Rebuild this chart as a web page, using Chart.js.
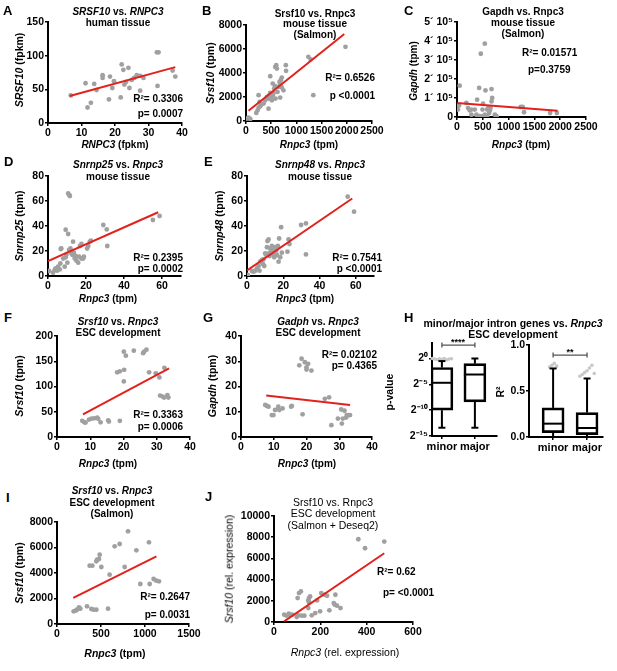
<!DOCTYPE html>
<html><head><meta charset="utf-8">
<script src="https://cdn.jsdelivr.net/npm/chart.js@4.4.0/dist/chart.umd.min.js"></script>
<style>
body{margin:0;background:#fff;width:617px;height:671px;position:relative;overflow:hidden;font-family:"Liberation Sans",Arial,Helvetica,sans-serif;}
canvas{position:absolute}
.t{position:absolute;font-weight:bold;font-size:10px;white-space:nowrap;color:#000;line-height:1;}
</style></head><body>
<script>
// ---------- DATA ----------
// A: SRSF10 vs RNPC3 human tissue
const aX=[6.8,11.2,11.8,12.8,13.8,14.5,16.3,16.3,18.5,18.2,19.2,19.7,21.7,22,22.5,22.8,23.3,24,24.3,25,25.7,26.5,27.5,27.5,28.5,32.5,33,32.7,37.2,38];
const aY=[41,59,23,30,58,49,71,67,69,35,52,62,38,87,79,57,61,82,52,64,67,71,70,48,67,105,105,55,78,69];
const aFitX=[6.5,38], aFitY=[40,83];
const aXTicks=[0,10,20,30,40], aYTicks=[0,50,100,150];
// B: Srsf10 vs Rnpc3 mouse tissue (Salmon)
const bX=[20,50,85,204,230,250,283,303,270,250,350,380,415,447,447,467,480,500,513,530,546,560,580,580,600,612,625,645,665,678,690,710,710,480,530,790,795,585,678,743,1237,1283,1335,1974];
const bY=[200,280,170,670,890,1110,1230,1390,1590,2150,1450,1730,2000,1870,1030,2150,2340,2000,1730,2150,2340,2700,2900,4510,4650,4370,2420,2840,3260,2980,3400,2790,3620,3730,3120,4650,4180,1870,1950,2560,5350,5130,2150,6180];
const bFitX=[50,1950], bFitY=[850,7250];
const bXTicks=[0,500,1000,1500,2000,2500], bYTicks=[0,2000,4000,6000,8000];
// C: Gapdh vs Rnpc3 mouse tissue (Salmon)
const cX=[52,19,39,182,214,247,279,279,344,377,390,429,461,506,539,552,494,506,539,584,604,636,669,682,669,649,623,734,766,442,584,1234,1273,1299,1805,1935];
const cY=[165000,39000,60000,74000,47000,35000,12000,39000,39000,12000,91000,153000,333000,70000,386000,140000,39000,4000,12000,39000,47000,35000,147000,100000,82000,47000,21000,12000,4000,4000,4000,53000,53000,25000,21000,21000];
const cFitX=[0,1950], cFitY=[74000,33000];
const cXTicks=[0,500,1000,1500,2000,2500], cYTicks=[0,100000,200000,300000,400000,500000];
// D: Snrnp25 vs Rnpc3
const dX=[0.5,2.6,3.5,4,4.8,5.3,6.2,6.5,6.7,7,8,8.8,9.3,9.3,9.7,10.2,10.6,10.6,11.2,11.5,11.1,11.8,12.3,12.9,13.2,13.6,14.1,14.6,15,15.9,16.4,16.8,17.6,17.6,18.5,18.9,20.6,21.2,22,22.6,29.1,30.9,31.2,55.2,58.7];
const dY=[4,2.7,4.8,6,4.3,7.5,5.3,10,21.6,22,14,7.5,15,37,17,10.7,33.6,66,64.8,64,20.8,22,18,16.8,27.5,18.7,14,16,12.3,10.7,15.5,24,25.6,14,14,15.5,22,24,27.5,28.3,40.8,37.3,24,44.8,48];
const dFitX=[0,58], dFitY=[12,51];
// E: Snrnp48 vs Rnpc3
const eX=[0.4,2.7,3.7,4.6,5.5,6.4,6.9,7.3,8.2,8.8,9.1,9.5,10,10.6,11,11.3,11.9,11.9,12.4,12.8,13.2,13.7,14.3,14.6,15,15.5,16.1,16.5,17,17.4,17.7,18.3,18.8,19.2,22.3,22.9,23.4,29.8,32.5,32.5,55.5,59];
const eY=[0.8,4,3.5,4.3,6.1,8,4.3,11.5,12.8,9.6,13.3,8,18,16.8,23,28,29.3,18,16,22,19.5,24,20.8,16.8,15,23,20.3,16.8,24,11.5,30,15,39,18.7,19.5,29.3,25.6,40.8,42.1,17.3,63.5,51.5];
const eFitX=[0,58], eFitY=[4.5,62];
const deXTicks=[0,20,40,60], deYTicks=[0,20,40,60,80];
// F: Srsf10 vs Rnpc3 ESC development
const fX=[7.6,8.2,8.6,9.6,10.4,11.2,12.1,12.4,13.1,15.4,15.6,18.9,18.1,18.9,20.1,20.7,20.2,20.1,23.1,25.9,26.2,26.9,27.7,29.7,30.8,31.0,31.8,32.2,32.3,33.2,33.5];
const fY=[32,29,28.6,34.5,36.5,37,38.5,36,29,33,30.5,32,128,130,169,161,133,110,171,166,169,173,128,126,118,82,80,78,137,83,78];
const fFitX=[7.8,33.7], fFitY=[45,136];
const fgXTicks=[0,10,20,30,40], fYTicks=[0,50,100,150,200];
// G: Gadph vs Rnpc3 ESC development
const gX=[7.4,7.9,8.4,9.4,9.9,10.4,11.4,11.7,12.7,15.3,15.5,17.8,18.5,18.8,19.5,20,20,20.5,21.5,25.6,26.9,27.6,29.6,30.6,30.8,31.6,31.1,32.1,32.3,32.9,33.3];
const gY=[12.7,12.3,12,8.7,8.7,10.7,12,10.7,11.3,12,12.3,28.4,31,9,29.6,27.6,26.7,29,26.3,15.1,15.7,4.7,7.3,10.9,5.3,10.4,7.3,7.7,8.7,8.7,8.7];
const gFitX=[7.7,33.3], gFitY=[16.4,12.7];
const gYTicks=[0,10,20,30,40];
// H: minor/major intron genes box plots
const hCats=['minor','major'];
const hPMin=[-13.4,-13.4], hPQ1=[-10,-8.4], hPMed=[-4.7,-3.1], hPQ3=[-1.75,-1.0], hPMax=[-0.5,0];
const hPOut=[[0,-0.1,-0.2,-0.05,-0.15,0,-0.25,-0.1,-0.05],[]];
const hPTicks=[-15,-10,-5,0], hPTickLabels=['2\u207B\u00B9\u2075','2\u207B\u00B9\u2070','2\u207B\u2075','2\u2070'];
const hRMin=[0,0], hRQ1=[0.047,0.025], hRMed=[0.145,0.098], hRQ3=[0.316,0.265], hRMax=[0.745,0.636];
const hROut=[[0.76,0.78,0.8,0.77],[0.66,0.68,0.7,0.72,0.75,0.78,0.69]];
const hRTicks=[0,0.5,1.0];
// I: Srsf10 vs Rnpc3 ESC development (Salmon)
const iX=[189,212,227,250,265,341,390,417,447,580,371,402,447,455,477,485,504,598,655,712,769,807,902,947,1045,1053,1098,1129,1159];
const iY=[994,1046,1124,1307,1203,1386,1176,1124,1124,1203,4575,4575,4915,5046,5098,5438,4471,3869,6092,6275,4471,7268,5778,3137,6405,3137,3529,3399,3346];
const iFitX=[185,1130], iFitY=[2050,5300];
const iXTicks=[0,500,1000,1500], iYTicks=[0,2000,4000,6000,8000];
// J: Srsf10 vs Rnpc3 ESC development (Salmon + Deseq2)
const jX=[44,54,64,68,79,98,105,119,131,102,108,116,151,148,151,156,148,163,178,186,204,199,218,229,239,258,265,262,272,287,364,393,476];
const jY=[690,596,784,690,690,470,627,596,596,2257,2727,2884,2257,2038,1850,2414,1317,627,846,2038,2727,1003,2570,2476,1097,1787,2570,1630,1536,1317,7806,6959,7586];
const jFitX=[44,476], jFitY=[60,6490];
const jXTicks=[0,200,400,600], jYTicks=[0,2000,4000,6000,8000,10000];

// ---------- DRAWING ----------
const FF='"Liberation Sans", Arial, Helvetica, sans-serif';
const PL=52, PT=10, PR=18, PB=30;
const GREY='#a0a0a0', RED='#e3211c';

function mk(box){
  const c=document.createElement('canvas');
  const w=(box.r-box.l)+PL+PR, h=(box.b-box.t)+PT+PB;
  c.width=w;c.height=h;
  c.style.left=(box.l-PL)+'px';c.style.top=(box.t-PT)+'px';
  c.style.width=w+'px';c.style.height=h+'px';
  document.body.appendChild(c);
  return c;
}
function axisOpts(ax,isX){
  const [min,max,ticks,fmt,fsize]=ax;
  return {type:'linear',min:min,max:max,offset:false,
    afterBuildTicks:s=>{s.ticks=ticks.map(v=>({value:v}));},
    afterFit:s=>{if(isX)s.height=PB;else s.width=PL;},
    ticks:{color:'#000',font:{family:FF,weight:'bold',size:fsize||10.5},padding:1,autoSkip:false,maxRotation:0,minRotation:0,
      callback:fmt||(v=>String(v))},
    grid:{drawOnChartArea:false,drawTicks:true,tickLength:3,color:'#000',lineWidth:1.5,offset:false},
    border:{display:true,color:'#000',width:2}};
}
function base(xAx,yAx){
  return {responsive:false,animation:false,devicePixelRatio:1,
    layout:{padding:{left:0,top:PT,right:PR,bottom:0}},
    plugins:{legend:{display:false},tooltip:{enabled:false},title:{display:false}},
    scales:{x:axisOpts(xAx,true),y:axisOpts(yAx,false)}};
}
function scatterPanel(box,xs,ys,fx,fy,xAx,yAx){
  const c=mk(box);
  new Chart(c,{type:'scatter',data:{datasets:[
    {data:fx.map((x,i)=>({x:x,y:fy[i]})),showLine:true,borderColor:RED,borderWidth:2,pointRadius:0,fill:false},
    {data:xs.map((x,i)=>({x:x,y:ys[i]})),pointRadius:2.4,backgroundColor:GREY,borderWidth:0}
  ]},options:base(xAx,yAx)});
}
function boxPanel(box,mn,q1,md,q3,mx,outs,xr,yAx,sigY){
  const c=mk(box);
  const line=(ctx,x1,y1,x2,y2)=>{ctx.beginPath();ctx.moveTo(x1,y1);ctx.lineTo(x2,y2);ctx.stroke();};
  const plug={id:'boxes',
    beforeDatasetsDraw(ch){
      const ctx=ch.ctx,x=ch.scales.x,y=ch.scales.y;ctx.save();ctx.fillStyle='#c8c8c8';
      hCats.forEach((k,i)=>{const px=x.getPixelForValue(i);const n=outs[i].length;
        outs[i].forEach((v,j)=>{ctx.beginPath();ctx.arc(px+(j-(n-1)/2)*2.4,y.getPixelForValue(v),1.8,0,Math.PI*2);ctx.fill();});});
      ctx.restore();
    },
    afterDatasetsDraw(ch){
      const ctx=ch.ctx,x=ch.scales.x,y=ch.scales.y;ctx.save();ctx.strokeStyle='#000';ctx.lineWidth=2;
      hCats.forEach((k,i)=>{
        const px=x.getPixelForValue(i),Y=v=>y.getPixelForValue(v);
        line(ctx,px,Y(q3[i]),px,Y(mx[i]));line(ctx,px,Y(q1[i]),px,Y(mn[i]));
        line(ctx,px-3.5,Y(mx[i]),px+3.5,Y(mx[i]));line(ctx,px-3.5,Y(mn[i]),px+3.5,Y(mn[i]));
        line(ctx,px-11,Y(md[i]),px+11,Y(md[i]));
      });
      const yb=y.getPixelForValue(sigY),x0=x.getPixelForValue(0),x1=x.getPixelForValue(1);
      ctx.strokeStyle='#555';ctx.lineWidth=1.3;
      line(ctx,x0,yb,x1,yb);line(ctx,x0,yb-2.5,x0,yb+2.5);line(ctx,x1,yb-2.5,x1,yb+2.5);
      ctx.restore();
    }};
  const opts=base([xr[0],xr[1],[0,1],v=>hCats[v],11],yAx);
  new Chart(c,{type:'bar',data:{datasets:[{data:hCats.map((k,i)=>({x:i,y:[q1[i],q3[i]]})),
    backgroundColor:'rgba(255,255,255,0)',borderColor:'#000',borderWidth:2,borderSkipped:false,barThickness:22}]},
    options:opts,plugins:[plug]});
}
const sci=v=>v===0?'0':(v/100000)+'\u00B4 10\u2075';

scatterPanel({l:48,t:22,r:182,b:123},aX,aY,aFitX,aFitY,[0,40,aXTicks],[0,150,aYTicks]);
scatterPanel({l:246,t:25,r:372,b:121},bX,bY,bFitX,bFitY,[0,2500,bXTicks],[0,8000,bYTicks]);
scatterPanel({l:457,t:22,r:586,b:117},cX,cY,cFitX,cFitY,[0,2500,cXTicks],[0,500000,cYTicks,sci]);
scatterPanel({l:48,t:176,r:181,b:276},dX,dY,dFitX,dFitY,[0,70,deXTicks],[0,80,deYTicks]);
scatterPanel({l:247,t:176,r:374,b:276},eX,eY,eFitX,eFitY,[0,70,deXTicks],[0,80,deYTicks]);
scatterPanel({l:57,t:336,r:190,b:437},fX,fY,fFitX,fFitY,[0,40,fgXTicks],[0,200,fYTicks]);
scatterPanel({l:241,t:336,r:372,b:437},gX,gY,gFitX,gFitY,[0,40,fgXTicks],[0,40,gYTicks]);
boxPanel({l:432,t:343,r:497,b:436},hPMin,hPQ1,hPMed,hPQ3,hPMax,hPOut,[-0.3,1.67],
  [-15,3,hPTicks,v=>hPTickLabels[hPTicks.indexOf(v)]],2.6);
boxPanel({l:529,t:345,r:603,b:437},hRMin,hRQ1,hRMed,hRQ3,hRMax,hROut,[-0.71,1.47],
  [0,1,hRTicks,v=>v.toFixed(1)],0.89);
scatterPanel({l:57,t:522,r:189,b:624},iX,iY,iFitX,iFitY,[0,1500,iXTicks],[0,8000,iYTicks]);
scatterPanel({l:274,t:516,r:413,b:622},jX,jY,jFitX,jFitY,[0,600,jXTicks],[0,10000,jYTicks]);

// ---------- TEXT ----------
function T(x,y,html,a,style){
  const d=document.createElement('div');d.className='t';d.innerHTML=html;
  d.style.left=x+'px';d.style.top=y+'px';
  const tr={c:'translate(-50%,-50%)',l:'translate(0,-50%)',r:'translate(-100%,-50%)',v:'translate(-50%,-50%) rotate(-90deg)'}[a||'c'];
  d.style.transform=tr;
  if(style)d.setAttribute('style',d.getAttribute('style')+';'+style);
  document.body.appendChild(d);
}
const LET='font-size:13px';
[['A',3,10],['B',202,10],['C',404,10],['D',4,161],['E',204,161],['F',4,317],['G',203,317],['H',404,317],['I',6,497],['J',205,496]]
  .forEach(a=>T(a[1],a[2],a[0],'l',LET));
// A
T(118,12,'<i>SRSF10</i> vs. <i>RNPC3</i>');T(118,23,'human tissue');
T(183,99,'R\u00B2= 0.3306','r');T(183,114,'p= 0.0007','r');
T(115,145,'<i>RNPC3</i> (fpkm)');T(19,70,'<i>SRSF10</i> (fpkm)','v','font-size:10.5px');
// B
T(315,14,'Srsf10 vs. Rnpc3');T(315,24,'mouse tissue');T(315,35,'(Salmon)');
T(375,78,'R\u00B2= 0.6526','r');T(375,96,'p &lt;0.0001','r');
T(309,145,'<i>Rnpc3</i> (tpm)');T(210,73,'<i>Srsf10</i> (tpm)','v','font-size:10.5px');
// C
T(523,12,'Gapdh vs. Rnpc3');T(523,23,'mouse tissue');T(523,34,'(Salmon)');
T(522,53,'R\u00B2= 0.01571','l');T(528,70,'p=0.3759','l');
T(521,145,'<i>Rnpc3</i> (tpm)');T(414,71,'<i>Gapdh</i> (tpm)','v','font-size:10px');
// D
T(118,165,'<i>Snrnp25</i> vs. <i>Rnpc3</i>');T(118,177,'mouse tissue');
T(183,258,'R\u00B2= 0.2395','r');T(183,269,'p= 0.0002','r');
T(108,299,'<i>Rnpc3</i> (tpm)');T(19,226,'<i>Snrnp25</i> (tpm)','v','font-size:10.5px');
// E
T(320,165,'<i>Snrnp48</i> vs. <i>Rnpc3</i>');T(320,177,'mouse tissue');
T(382,258,'R\u00B2= 0.7541','r');T(382,269,'p &lt;0.0001','r');
T(305,299,'<i>Rnpc3</i> (tpm)');T(219,226,'<i>Snrnp48</i> (tpm)','v','font-size:10.5px');
// F
T(118,322,'<i>Srsf10</i> vs. <i>Rnpc3</i>');T(118,333,'ESC development');
T(183,415,'R\u00B2= 0.3363','r');T(183,427,'p= 0.0006','r');
T(108,464,'<i>Rnpc3</i> (tpm)');T(19,386,'<i>Srsf10</i> (tpm)','v','font-size:10.5px');
// G
T(318,322,'<i>Gadph</i> vs. <i>Rnpc3</i>');T(318,333,'ESC development');
T(377,355,'R\u00B2= 0.02102','r');T(377,366,'p= 0.4365','r');
T(307,464,'<i>Rnpc3</i> (tpm)');T(212,386,'<i>Gapdh</i> (tpm)','v','font-size:10.5px');
// H
T(513,323,'minor/major intron genes vs. <i>Rnpc3</i>','c','font-size:10.5px');T(513,334,'ESC development','c','font-size:10.5px');
T(389,392,'p-value','v','font-size:10.5px');T(500,392,'R\u00B2','v','font-size:10.5px');
T(458,342,'****','c','font-size:9px');T(570,352,'**','c','font-size:9px');
// I
T(112,491,'<i>Srsf10</i> vs. <i>Rnpc3</i>');T(112,503,'ESC development');T(112,514,'(Salmon)');
T(190,597,'R\u00B2= 0.2647','r');T(190,615,'p= 0.0031','r');
T(115,653,'<i>Rnpc3</i> (tpm)','c','font-size:10.5px');T(19,573,'<i>Srsf10</i> (tpm)','v','font-size:10.5px');
// J
T(333,502,'Srsf10 vs. Rnpc3','c','font-weight:normal;font-size:10.5px');T(333,513,'ESC development','c','font-weight:normal;font-size:10.5px');T(333,525,'(Salmon + Deseq2)','c','font-weight:normal;font-size:10.5px');
T(377,572,'R\u00B2= 0.62','l');T(383,593,'p= &lt;0.0001','l');
T(345,652,'<i>Rnpc3</i> (rel. expression)','c','font-weight:normal;font-size:10.5px');
T(229,569,'<i>Srsf10</i> (rel. expression)','v','font-weight:normal;font-size:10.5px');
</script>
</body></html>
